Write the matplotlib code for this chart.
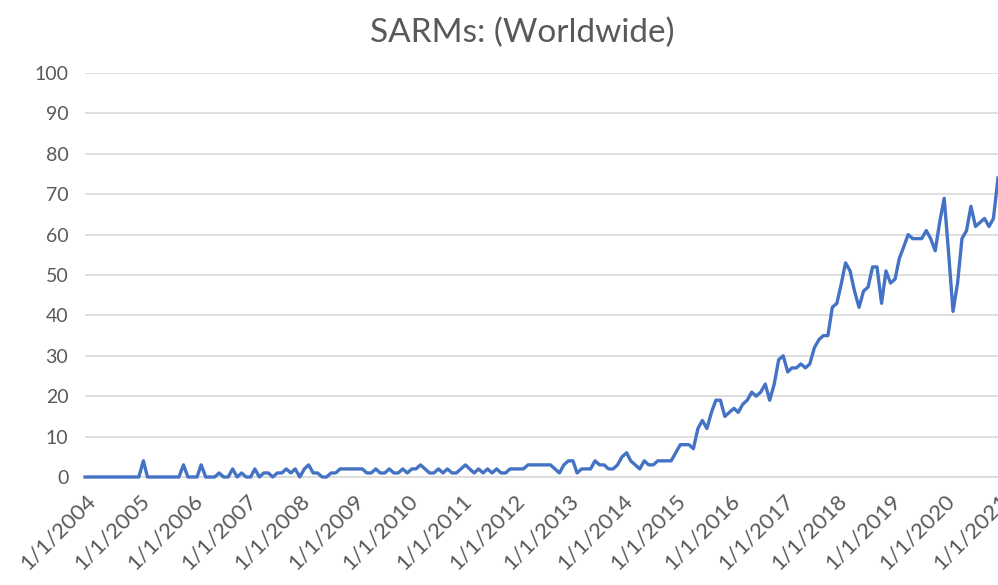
import matplotlib
matplotlib.use("Agg")
import matplotlib.pyplot as plt
import pandas as pd

title = "SARMs: (Worldwide)"
y2004 = [0, 0, 0, 0, 0, 0, 0, 0, 0, 0, 0, 0]
y2005 = [0, 4, 0, 0, 0, 0, 0, 0, 0, 0, 3, 0]
y2006 = [0, 0, 3, 0, 0, 0, 1, 0, 0, 2, 0, 1]
y2007 = [0, 0, 2, 0, 1, 1, 0, 1, 1, 2, 1, 2]
y2008 = [0, 2, 3, 1, 1, 0, 0, 1, 1, 2, 2, 2]
y2009 = [2, 2, 2, 1, 1, 2, 1, 1, 2, 1, 1, 2]
y2010 = [1, 2, 2, 3, 2, 1, 1, 2, 1, 2, 1, 1]
y2011 = [2, 3, 2, 1, 2, 1, 2, 1, 2, 1, 1, 2]
y2012 = [2, 2, 2, 3, 3, 3, 3, 3, 3, 2, 1, 3]
y2013 = [4, 4, 1, 2, 2, 2, 4, 3, 3, 2, 2, 3]
y2014 = [5, 6, 4, 3, 2, 4, 3, 3, 4, 4, 4, 4]
y2015 = [6, 8, 8, 8, 7, 12, 14, 12, 16, 19, 19, 15]
y2016 = [16, 17, 16, 18, 19, 21, 20, 21, 23, 19, 23, 29]
y2017 = [30, 26, 27, 27, 28, 27, 28, 32, 34, 35, 35, 42]
y2018 = [43, 48, 53, 51, 46, 42, 46, 47, 52, 52, 43, 51]
y2019 = [48, 49, 54, 57, 60, 59, 59, 59, 61, 59, 56, 63]
y2020 = [69, 55, 41, 48, 59, 61, 67, 62, 63, 64, 62, 64]
y2021 = [74]

values = (y2004 + y2005 + y2006 + y2007 + y2008 + y2009 + y2010 + y2011 + y2012
          + y2013 + y2014 + y2015 + y2016 + y2017 + y2018 + y2019 + y2020 + y2021)
dates = pd.date_range("2004-01-01", periods=len(values), freq="MS")
tick_years = list(range(2004, 2022))
tick_labels = [f"1/1/{y}" for y in tick_years]
yticks = list(range(0, 101, 10))

plt.rcParams['font.family'] = ['Lato', 'DejaVu Sans']
fig = plt.figure(figsize=(9.98, 5.85), dpi=100)
ax = fig.add_axes([85/998, (585-477)/585, 913/998, 404/585])
ax.plot(dates, values, color="#4472C4", lw=2.4, solid_joinstyle='round', clip_on=False, zorder=3)
ax.set_xlim(pd.Timestamp("2004-01-01"), pd.Timestamp("2021-01-01"))
ax.set_ylim(0, 100)
ax.set_yticks(yticks)
ax.set_yticklabels([str(v) for v in yticks], color="#595959", fontsize=14)
ax.set_xticks([pd.Timestamp(f"{y}-01-01") for y in tick_years])
ax.set_xticklabels(tick_labels, rotation=45, ha='right', rotation_mode='anchor',
                   color="#595959", fontsize=16)
ax.tick_params(axis='both', length=0)
ax.tick_params(axis='y', pad=12)
ax.tick_params(axis='x', pad=10)
ax.grid(axis='y', color="#d9d9d9", lw=1.2)
ax.set_axisbelow(True)
for s in ['top', 'right', 'left']:
    ax.spines[s].set_visible(False)
ax.spines['bottom'].set_color("#d9d9d9")
ax.spines['bottom'].set_linewidth(1.2)
fig.text(522/998, 1 - 33/585, title, ha='center', va='center', fontsize=24, color="#595959")
fig.savefig("out.png", dpi=100)
